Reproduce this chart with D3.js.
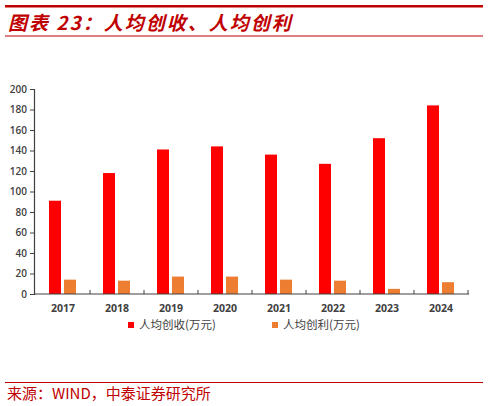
<!DOCTYPE html>
<html>
<head>
<meta charset="utf-8">
<script src="https://cdn.jsdelivr.net/npm/d3@7"></script>
<style>
  body { margin: 0; background: #fff; }
  svg { display: block; }
</style>
</head>
<body>
<div id="chart"></div>
<script>
// datos del grafico
const years = ["2017", "2018", "2019", "2020", "2021", "2022", "2023", "2024"];
const revenue = [91, 118, 141, 144, 136, 127, 152, 184];   // 人均创收(万元)
const profit = [14, 13, 17, 17, 14, 13, 5, 11.5];         // 人均创利(万元)
const yTicks = [0, 20, 40, 60, 80, 100, 120, 140, 160, 180, 200];
const seriesNames = ["人均创收(万元)", "人均创利(万元)"];
const seriesColors = ["#ff0000", "#ed7d31"];

const W = 488, H = 406;
const svg = d3.select("#chart").append("svg")
  .attr("width", W)
  .attr("height", H);

const cjk = "'Noto Sans CJK SC', 'Noto Sans', sans-serif";

// cabecera
svg.append("rect").attr("x", 5).attr("y", 5).attr("width", 478).attr("height", 2.5).attr("fill", "#c00000");
svg.append("text")
  .attr("x", 8).attr("y", 30)
  .attr("fill", "#c00000")
  .style("font-family", cjk)
  .style("font-size", "19px")
  .style("font-style", "italic")
  .style("font-weight", "bold")
  .style("letter-spacing", "2px")
  .text("图表 23：人均创收、人均创利");
svg.append("rect").attr("x", 5).attr("y", 35.5).attr("width", 478).attr("height", 1).attr("fill", "#c00000");

// escalas
const x = d3.scaleBand().domain(years).range([36, 468]);
const y = d3.scaleLinear().domain([0, 200]).range([294, 89]);

const g = svg.append("g");

// eje y
const yAxis = g.append("g")
  .attr("transform", "translate(34,0)")
  .call(d3.axisLeft(y).tickValues(yTicks).tickSize(4).tickPadding(3));
yAxis.select(".domain").attr("stroke", "#404040").attr("stroke-width", 1.2);
yAxis.selectAll(".tick line").attr("stroke", "#404040");
yAxis.selectAll("text")
  .attr("fill", "#404040")
  .style("font-family", "'Open Sans', sans-serif")
  .style("font-size", "10px")
  .style("font-weight", "600");

// barras
const bw = 12;
g.append("g").selectAll("rect")
  .data(revenue)
  .join("rect")
  .attr("x", (_, i) => x(years[i]) + x.bandwidth() / 2 - 14)
  .attr("width", bw)
  .attr("y", d => y(d))
  .attr("height", d => y(0) - y(d))
  .attr("fill", seriesColors[0]);

g.append("g").selectAll("rect")
  .data(profit)
  .join("rect")
  .attr("x", (_, i) => x(years[i]) + x.bandwidth() / 2 + 1)
  .attr("width", bw)
  .attr("y", d => y(d))
  .attr("height", d => y(0) - y(d))
  .attr("fill", seriesColors[1]);

// eje x
const boundaries = years.map(d => x(d)).slice(1).concat([x.range()[1]]);
const xAxis = g.append("g").attr("transform", "translate(0,294)");
xAxis.append("line")
  .attr("x1", 34).attr("x2", x.range()[1] + 1)
  .attr("stroke", "#404040").attr("stroke-width", 1.2);
xAxis.selectAll(".tk")
  .data(boundaries)
  .join("line")
  .attr("class", "tk")
  .attr("x1", d => d).attr("x2", d => d)
  .attr("y1", 0).attr("y2", -4)
  .attr("stroke", "#404040");
xAxis.selectAll("text")
  .data(years)
  .join("text")
  .attr("x", d => x(d) + x.bandwidth() / 2)
  .attr("y", 18)
  .attr("text-anchor", "middle")
  .attr("fill", "#404040")
  .style("font-family", "'Open Sans', sans-serif")
  .style("font-size", "10.5px")
  .style("font-weight", "bold")
  .text(d => d);

// leyenda
const legendX = [128, 272];
const legend = svg.append("g").selectAll("g")
  .data(seriesNames)
  .join("g")
  .attr("transform", (_, i) => `translate(${legendX[i]},329)`);
legend.append("rect")
  .attr("x", 0).attr("y", -7)
  .attr("width", 6).attr("height", 6)
  .attr("fill", (_, i) => seriesColors[i]);
legend.append("text")
  .attr("x", 11).attr("y", 0)
  .attr("fill", "#404040")
  .style("font-family", cjk)
  .style("font-size", "11.5px")
  .text(d => d);

// pie
svg.append("rect").attr("x", 5).attr("y", 382).attr("width", 478).attr("height", 1).attr("fill", "#c00000");
svg.append("text")
  .attr("x", 7).attr("y", 399)
  .attr("fill", "#c00000")
  .style("font-family", cjk)
  .style("font-size", "15px")
  .text("来源：WIND，中泰证券研究所");
</script>
</body>
</html>
